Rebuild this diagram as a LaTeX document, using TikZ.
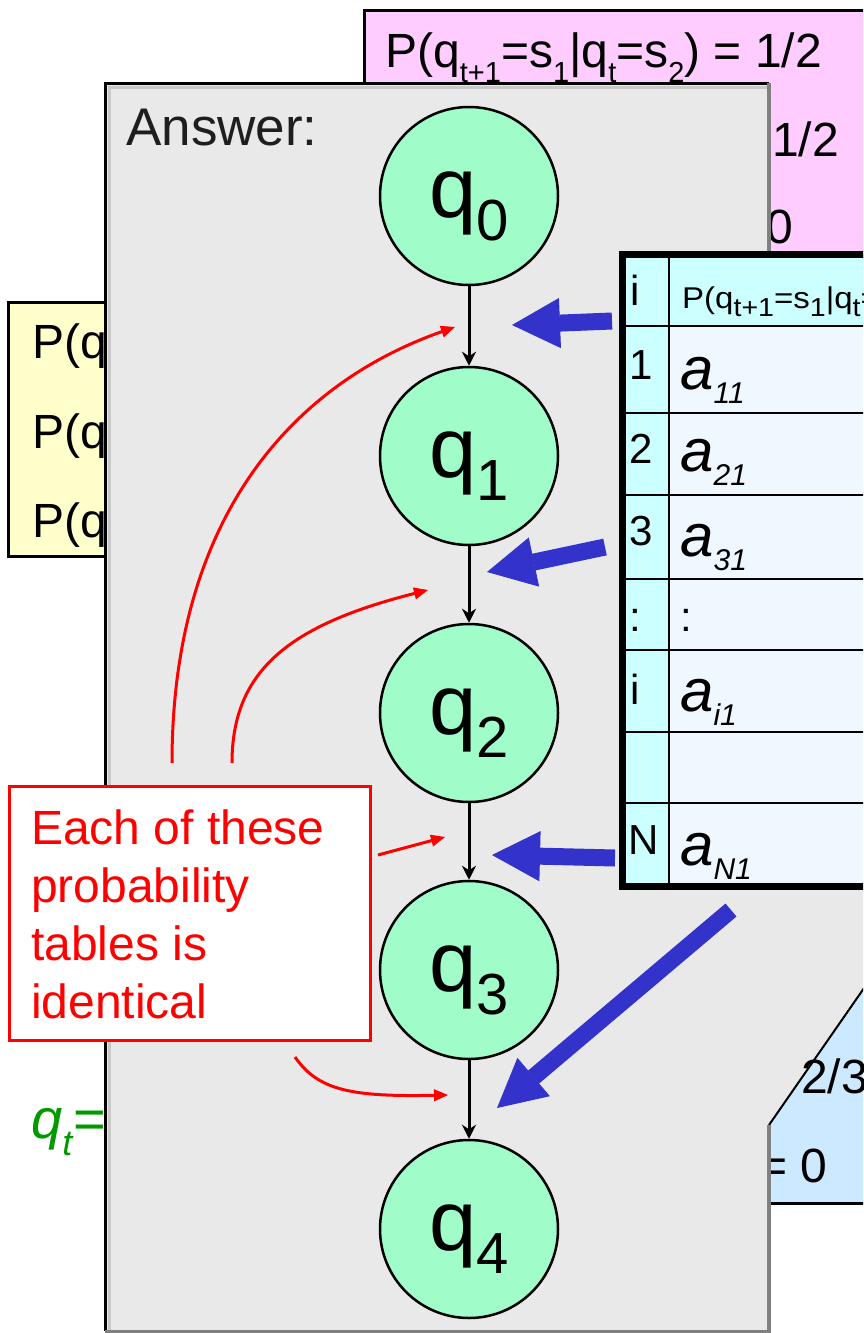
\documentclass[tikz,border=0pt]{standalone}
\usepackage{fontspec}
\setmainfont{Liberation Sans}
\usepackage{graphicx}
\usetikzlibrary{arrows.meta}

\definecolor{pinkbg}{RGB}{255,204,255}
\definecolor{yellowbg}{RGB}{255,255,204}
\definecolor{panelgrey}{RGB}{233,233,233}
\definecolor{panelbevel}{RGB}{200,200,200}
\definecolor{panelshadow}{RGB}{128,128,128}
\definecolor{statefill}{RGB}{160,252,200}
\definecolor{cyanbg}{RGB}{204,255,255}
\definecolor{palebg}{RGB}{240,248,255}
\definecolor{lightblue}{RGB}{204,233,255}
\definecolor{arrowblue}{RGB}{51,51,204}
\definecolor{qgreen}{RGB}{0,153,0}

\newcommand{\fs}[1]{\fontsize{#1}{#1}\selectfont}
\newcommand{\sbs}[3]{\raisebox{-#1}{\fs{#2}#3}}

\begin{document}
\begin{tikzpicture}[x=1pt,y=-1pt,
  txt/.style={inner sep=0pt, anchor=base west},
  state/.style={circle, draw=black, line width=2.5pt, fill=statefill,
    minimum size=178pt, inner sep=0pt, text height=44pt, text depth=2pt,
    font=\fs{85}},
  flow/.style={line width=3pt, -{Stealth[length=14pt,width=14pt]}},
  bluearrow/.style={draw=arrowblue, line width=17pt,
    -{Triangle[length=48pt,width=50pt,line width=1pt]}},
  redarrow/.style={draw=red, line width=3pt,
    -{Triangle[length=14pt,width=12pt,line width=1pt]}},
  tline/.style={line width=2.5pt},
  idx/.style={txt, font=\fs{42}},
  aval/.style={txt, font=\fs{60}\itshape}
]
\useasboundingbox (0,0) rectangle (863,1333);
\clip (0,0) rectangle (863,1333);
\fill[white] (0,0) rectangle (863,1333);

% pink box (behind)
\draw[line width=3pt, fill=pinkbg] (364.5,10.5) rectangle (880,256);
\node[txt] (pinkA) at (385,67) {\fs{48}P(q\sbs{15pt}{29}{t+1}=s\sbs{15pt}{29}{1}|q\sbs{15pt}{29}{t}=s\sbs{15pt}{29}{2}) = 1/2};
\node[txt] (pinkB) at (772,156) {\fs{48}1/2};
\node[txt] (pinkC) at (766,243) {\fs{48}0};

% yellow box (behind)
\draw[line width=3pt, fill=yellowbg] (8,302.5) rectangle (140,556.5);
\node[txt] (yelA) at (32,358) {\fs{48}P(q};
\node[txt] (yelB) at (32,448) {\fs{48}P(q};
\node[txt] (yelC) at (32,537) {\fs{48}P(q};

% green q_t=
\node[txt, text=qgreen] (qt) at (31,1138) {\fs{56}\textit{q}\sbs{17pt}{36}{\textit{t}}=};

% grey answer panel
\fill[panelgrey] (105,83) rectangle (769,1331);
\fill[panelgrey] (767,886) -- (870,886) -- (870,979.4) -- (767,1126.4) -- cycle;

% light blue box (behind, lower right)
\fill[lightblue] (769,1125) -- (880,965) -- (880,1203) -- (769,1203) -- cycle;
\draw[line width=2pt] (769,1125) -- (880,965);
\draw[line width=3pt] (769,1203) -- (880,1203);
\begin{scope}
  \clip (770,950) rectangle (863,1220);
  \node[txt] (frac) at (801,1093) {\fs{48}2/3};
  \node[txt] (zero) at (759,1182) {\fs{48}= 0};
\end{scope}

% panel borders
\draw[panelbevel, line width=3pt] (109,1331) -- (109,87) -- (769,87);
\draw[line width=3pt] (105.5,1331) -- (105.5,83.5) -- (769,83.5);
\draw[panelshadow, line width=4pt] (769,83) -- (769,888);
\draw[panelshadow, line width=4pt] (769,1125) -- (769,1333);
\draw[panelshadow, line width=3pt] (105,1331.5) -- (771,1331.5);

% states
\node[state] (q0) at (469,196) {q\sbs{23pt}{58}{0}};
\node[state] (q1) at (469,456) {q\sbs{23pt}{58}{1}};
\node[state] (q2) at (469,713) {q\sbs{23pt}{58}{2}};
\node[state] (q3) at (469,970) {q\sbs{23pt}{58}{3}};
\node[state] (q4) at (469,1229) {q\sbs{23pt}{58}{4}};
\draw[flow] (q0) -- (q1);
\draw[flow] (q1) -- (q2);
\draw[flow] (q2) -- (q3);
\draw[flow] (q3) -- (q4);

% table
\fill[cyanbg] (622,254) rectangle (669,886);
\fill[cyanbg] (669,254) rectangle (900,326);
\fill[palebg] (669,326) rectangle (900,886);
\foreach \yy in {326,413,495,579,650,732,803}{
  \draw[tline] (622,\yy) -- (900,\yy);
}
\draw[tline] (669,254) -- (669,886);
\draw[line width=7pt] (622.5,254) rectangle (905,886);

\node[idx] (hi) at (630,305) {i};
\node[txt] (hp) at (682,308) {\scalebox{1.1}[1]{\fs{30}P(q\sbs{8pt}{26}{t+1}=s\sbs{8pt}{26}{1}|q\sbs{8pt}{26}{t}=s\sbs{8pt}{26}{i})}};

\node[idx] (i1) at (629,379) {1};
\node[aval] (a1) at (680,389) {a\sbs{14pt}{30}{11}};
\node[idx] (i2) at (629,463) {2};
\node[aval] (a2) at (680,471) {a\sbs{14pt}{30}{21}};
\node[idx] (i3) at (629,545) {3};
\node[aval] (a3) at (680,556) {a\sbs{14pt}{30}{31}};
\node[idx] (idots) at (629,631) {:};
\node[idx] (adots) at (680,631) {:};
\node[idx] (ii) at (630,704) {i};
\node[aval] (ai) at (680,711) {a\sbs{14pt}{30}{i1}};
\node[idx] (iN) at (628,854) {N};
\node[aval] (aN) at (680,865) {a\sbs{14pt}{30}{N1}};

% blue arrows
\coordinate (b1s) at (612,321);
\coordinate (b1e) at (512,325);
\coordinate (b2s) at (605,547);
\coordinate (b2e) at (487,572);
\coordinate (b3s) at (615,858);
\coordinate (b3e) at (492,855);
\coordinate (b4s) at (731,910);
\coordinate (b4e) at (497,1108);
\draw[bluearrow] (b1s) -- (b1e);
\draw[bluearrow] (b2s) -- (b2e);
\draw[bluearrow] (b3s) -- (b3e);
\draw[bluearrow] (b4s) -- (b4e);

% red note
\node[draw=red, line width=3pt, fill=white, inner sep=0pt, anchor=north west,
  minimum width=361pt, minimum height=254pt] (note) at (8,785) {};
\node[inner sep=0pt, anchor=north west, align=left, text=red,
  font={\fontsize{48}{58}\selectfont}] (notetext) at (31,810)
  {Each of these\\probability\\tables is\\identical};

% red arrows
\coordinate (r1s) at (172,763);
\coordinate (r1e) at (455,327);
\coordinate (r2s) at (232,763);
\coordinate (r2e) at (428,590);
\coordinate (r3s) at (378,855);
\coordinate (r3e) at (445,837);
\coordinate (r4s) at (295,1057);
\coordinate (r4e) at (448,1095);
\draw[redarrow] (r1s) .. controls (172,520) and (290,385) .. (r1e);
\draw[redarrow] (r2s) .. controls (232,670) and (290,625) .. (r2e);
\draw[redarrow] (r3s) -- (r3e);
\draw[redarrow] (r4s) .. controls (318,1090) and (350,1097) .. (r4e);

% Answer label
\node[txt, text={rgb,255:red,30;green,30;blue,30}] (answer) at (126,145) {\fs{53}Answer:};
\end{tikzpicture}
\end{document}
